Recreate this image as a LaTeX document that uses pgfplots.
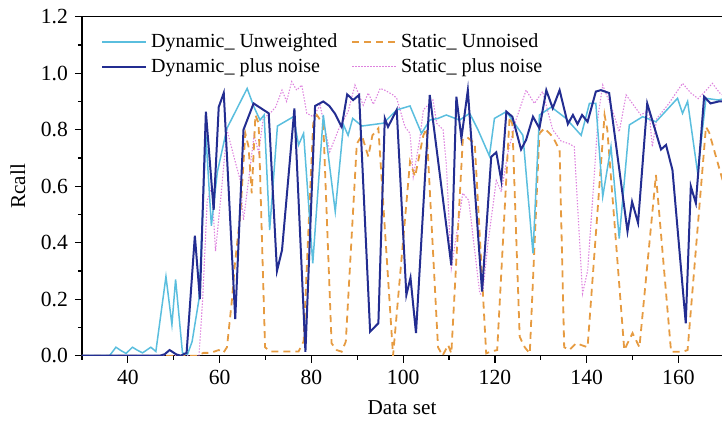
\documentclass[border=0pt]{standalone}
\usepackage{fontspec}
\setmainfont{Liberation Serif}
\usepackage{pgfplots}
\pgfplotsset{compat=1.18}
\usetikzlibrary{calc}
\definecolor{du}{RGB}{90,190,222}
\definecolor{dp}{RGB}{35,45,145}
\definecolor{su}{RGB}{230,155,65}
\definecolor{sp}{RGB}{222,130,222}
\begin{document}
\begin{tikzpicture}
\begin{axis}[
  width=320pt, height=169.5pt, scale only axis,
  xmin=30, xmax=169.5, ymin=0, ymax=1.2,
  axis x line*=box, axis y line*=left,
  axis line style={line width=0.6pt,-},
  xtick={40,60,80,100,120,140,160},
  minor xtick={30,50,70,90,110,130,150,170},
  ytick={0,0.2,0.4,0.6,0.8,1.0,1.2},
  minor ytick={0.1,0.3,0.5,0.7,0.9,1.1},
  xtick pos=left, ytick pos=left,
  tick align=outside,
  major tick length=3.5pt, minor tick length=2pt,
  tick style={line width=0.6pt,black},
  /pgf/number format/assume math mode=true,
  tick label style={font=\fontsize{10.8}{12}\selectfont},
  yticklabel style={/pgf/number format/.cd,fixed,fixed zerofill,precision=1},
  xlabel={Data set}, ylabel={Rcall},
  label style={font=\fontsize{10.6}{12}\selectfont},
  x label style={at={(axis description cs:0.5,-0.154)}, anchor=center},
  y label style={at={(axis description cs:-0.1,0.5)}, anchor=center},
  legend columns=2,
  legend style={at={(0.02,0.975)}, anchor=north west, draw=none, fill=none,
    font=\fontsize{10}{12}\selectfont, /tikz/every even column/.append style={column sep=5pt}},
  legend cell align=left,
  legend image code/.code={\draw[#1] (0pt,0pt) -- (22pt,0pt);},
]
\addlegendimage{du, line width=0.75pt}
\addlegendentry{Dynamic\_ Unweighted}
\addlegendimage{su, line width=0.9pt, dash pattern=on 3.5pt off 2.5pt}
\addlegendentry{Static\_ Unnoised}
\addlegendimage{dp, line width=1pt}
\addlegendentry{Dynamic\_ plus noise}
\addlegendimage{sp, line width=0.55pt, dash pattern=on 0.7pt off 0.8pt}
\addlegendentry{Static\_ plus noise}

% Static plus noise
\addplot[sp, line width=0.55pt, dash pattern=on 0.7pt off 0.8pt, forget plot] coordinates {
(30,0)(55.5,0)(56.3,0.2)(57.3,0.55)(58.3,0.6)(59.1,0.37)(60.2,0.55)(61.6,0.8)(62.7,0.73)(64.5,0.62)(65.2,0.48)(66.3,0.62)(67.5,0.78)(68.5,0.72)(69.5,0.84)(71,0.858)(72.2,0.88)(73.6,0.94)(74.6,0.9)(75.7,0.97)(76.8,0.94)(77.9,0.958)(79,0.858)(80.4,0.846)(81.9,0.887)(84,0.722)(85.9,0.8)(88,0.864)(89.5,0.958)(91.3,0.887)(92.4,0.93)(93.5,0.89)(95,0.946)(96,0.94)(97.8,0.923)(98.6,0.911)(100.4,0.81)(101.5,0.787)(102.2,0.634)(103.6,0.764)(104.4,0.87)(106.5,0.905)(107.3,0.823)(108.7,0.8)(109.4,0.68)(110.5,0.31)(111.9,0.457)(113,0.575)(114.3,0.55)(116.7,0.22)(117.3,0.215)(118.5,0.4)(120.3,0.62)(121.4,0.58)(122.8,0.716)(124.5,0.83)(126.8,0.94)(128.6,0.893)(130.4,0.935)(132.6,0.8)(134.4,0.76)(136.2,0.75)(137.3,0.74)(139.1,0.22)(140.2,0.3)(141.5,0.6)(142.5,0.85)(143.5,0.958)(145.6,0.87)(147.1,0.793)(148.6,0.923)(151.8,0.852)(153.6,0.87)(154.3,0.74)(155.3,0.84)(157.8,0.89)(160.9,0.964)(162.7,0.93)(164.3,0.91)(165.5,0.93)(167.4,0.964)(169,0.93)(170,0.92)
};
% Static unnoised
\addplot[su, line width=0.9pt, dash pattern=on 3.5pt off 2.5pt, forget plot] coordinates {
(30,0)(55,0)(56.5,0.01)(58,0.01)(59.8,0.02)(60.8,0.01)(61.6,0.03)(62.7,0.2)(63.3,0.32)(64.5,0.5)(65.6,0.787)(66.3,0.74)(67,0.575)(67.8,0.852)(68.5,0.823)(69.9,0.03)(71,0.015)(73,0.015)(75,0.015)(77.2,0.015)(78.3,0.05)(79.5,0.5)(80.4,0.823)(81.2,0.852)(82.6,0.817)(84.4,0.044)(85.5,0.02)(86.6,0.014)(87.5,0.05)(89.9,0.75)(91,0.78)(92.4,0.705)(93.3,0.78)(94.6,0.805)(97.8,0.0)(101.5,0.687)(102.6,0.634)(104.4,0.78)(105.1,0.805)(107.6,0.03)(108.6,0.0)(109.8,0.038)(110.5,0.008)(113,0.764)(113.8,0.775)(115.6,0.752)(118.1,0.008)(119,0.014)(120.5,0.02)(123.2,0.846)(123.8,0.82)(125.4,0.067)(126.5,0.03)(127.6,0.008)(129.7,0.787)(130.8,0.805)(132.6,0.775)(134.1,0.728)(135.1,0.03)(136.2,0.02)(137.7,0.044)(140.2,0.03)(143.9,0.852)(144.5,0.8)(148.2,0.02)(150,0.08)(151.5,0.03)(155.1,0.64)(158.4,0.014)(160.9,0.014)(162,0.02)(166,0.81)(166.7,0.79)(169.2,0.646)(170,0.6)
};
% Dynamic unweighted
\addplot[du, line width=0.75pt, forget plot] coordinates {
(30,0)(31,0)(32,0)(33,0)(34,0)(35,0)(36,0)(37.4,0.03)(38.5,0.018)(39.6,0.008)(41,0.03)(42,0.02)(43.2,0.01)(45,0.03)(46.1,0.015)(48.3,0.28)(49.6,0.11)(50.4,0.27)(51.9,0.01)(53,0.005)(54,0.05)(55.5,0.2)(57,0.78)(58.2,0.46)(59.5,0.65)(61.6,0.805)(66,0.946)(67.5,0.88)(68.8,0.834)(69.7,0.852)(70.9,0.445)(72.6,0.813)(76.1,0.846)(77.2,0.746)(78.3,0.787)(80.3,0.327)(82.6,0.852)(85.2,0.51)(87,0.817)(88,0.78)(89,0.84)(91,0.813)(95.7,0.823)(98.6,0.87)(101.5,0.884)(104,0.787)(105.8,0.834)(107.6,0.84)(109.4,0.852)(112.3,0.834)(114.5,0.858)(116.3,0.8)(118.8,0.707)(119.9,0.84)(122.5,0.864)(126.1,0.78)(128.3,0.362)(129.7,0.852)(132.3,0.88)(135.5,0.84)(138.8,0.78)(140.6,0.893)(142,0.893)(143.5,0.563)(145.3,0.74)(147.1,0.415)(149.3,0.817)(152.2,0.846)(155.1,0.828)(159.8,0.911)(160.9,0.858)(162,0.9)(164.2,0.646)(166,0.911)(168.7,0.905)(170,0.91)
};
% Dynamic plus noise
\addplot[dp, line width=1pt, forget plot] coordinates {
(30,0)(47,0)(48,0.005)(49.1,0.02)(50.5,0.005)(51.5,0)(52.8,0.01)(54.6,0.425)(55.7,0.2)(57,0.864)(58.7,0.516)(59.8,0.88)(60.9,0.93)(63.4,0.13)(65.2,0.8)(67.4,0.893)(70.7,0.858)(72.5,0.3)(73.6,0.374)(76.3,0.875)(78.7,0.014)(80.8,0.884)(82.6,0.9)(83.9,0.884)(85.1,0.858)(86.6,0.81)(87.8,0.925)(89.1,0.905)(90.4,0.923)(92.8,0.085)(94.6,0.115)(96,0.84)(96.7,0.81)(98.6,0.87)(100.7,0.215)(101.6,0.276)(102.8,0.08)(105.8,0.923)(110.5,0.32)(111.6,0.917)(112.7,0.77)(114.1,0.94)(117.2,0.227)(119.2,0.704)(120.3,0.72)(121.4,0.62)(122.5,0.864)(123.8,0.846)(125.7,0.73)(126.8,0.764)(128.3,0.846)(129.7,0.805)(131.2,0.94)(132.6,0.876)(134.1,0.94)(135.9,0.82)(137,0.852)(138,0.82)(139,0.852)(140.2,0.828)(142,0.935)(143.1,0.94)(144.9,0.93)(148.9,0.44)(149.9,0.545)(151.2,0.47)(153.2,0.893)(156.2,0.73)(157.3,0.746)(158.7,0.657)(161.6,0.115)(162.7,0.6)(163.8,0.54)(165.6,0.917)(167,0.893)(168.8,0.9)(170,0.9)
};
\end{axis}
\pgfresetboundingbox
\path ($(current axis.south west)+(-41pt,-38.15pt)$) rectangle ($(current axis.north east)+(0pt,8.35pt)$);
\end{tikzpicture}
\end{document}
